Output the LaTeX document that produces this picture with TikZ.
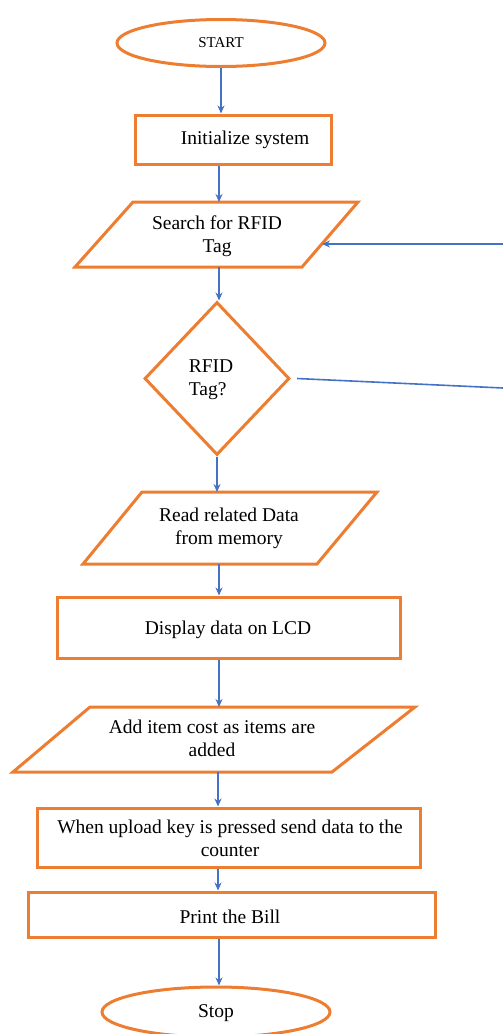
\documentclass[tikz,border=0pt]{standalone}
\usepackage{fontspec}
\setmainfont{Liberation Serif}
\usetikzlibrary{shapes.geometric,arrows.meta}
\definecolor{boxorange}{RGB}{237,125,49}
\definecolor{arrowblue}{RGB}{68,114,196}
\begin{document}
\begin{tikzpicture}[x=1pt,y=-1pt,
  box/.style={draw=boxorange, line width=3pt, rectangle, inner sep=0pt},
  term/.style={draw=boxorange, line width=3pt, ellipse, inner sep=0pt},
  pgram/.style={draw=boxorange, line width=3pt, line join=miter},
  lbl/.style={align=center, inner sep=0pt, font=\fontsize{19.5}{23}\selectfont},
  flow/.style={draw=arrowblue, line width=1.6pt, -{Stealth[length=8pt,width=7pt]}},
  conn/.style={draw=arrowblue, line width=1.6pt}]
\useasboundingbox (0,0) rectangle (503,1034);
\clip (0,0) rectangle (503,1034);
% START
\node[term, minimum width=208, minimum height=47, font=\fontsize{15}{18}\selectfont] (start) at (221,43) {START};
% Initialize
\node[box, minimum width=196, minimum height=49] (init) at (233,139.5) {};
\node[lbl] (initT) at (245,140) {Initialize system};
% Search
\draw[pgram] (133,202) -- (358,202) -- (302,267) -- (75,267) -- cycle;
\node[lbl] (search) at (217,236) {Search for RFID\\Tag};
\coordinate (searchN) at (219,202);
\coordinate (searchS) at (219,267);
\coordinate (searchE) at (322,244);
% Decision
\node[diamond, draw=boxorange, line width=3pt, minimum width=145, minimum height=153, inner sep=0pt] (dia) at (217,378.5) {};
\node[lbl, align=left] (diaT) at (211,380) {RFID\\Tag?};
% Read
\draw[pgram] (142,492) -- (377,492) -- (317,564) -- (83,564) -- cycle;
\node[lbl] (read) at (229,528) {Read related Data\\from memory};
\coordinate (readN) at (219,492);
\coordinate (readS) at (219,564);
% Display
\node[box, minimum width=343, minimum height=61] (disp) at (228.5,627.5) {};
\node[lbl] (dispT) at (228,630) {Display data on LCD};
% Add
\draw[pgram] (90,707) -- (415,707) -- (332,772) -- (13,772) -- cycle;
\node[lbl] (add) at (212,738) {Add item cost as items are\\added};
\coordinate (addN) at (219,707);
\coordinate (addS) at (218,772);
% Upload
\node[box, minimum width=383, minimum height=59] (upl) at (228.5,837.5) {};
\node[lbl] (uplT) at (230,838) {When upload key is pressed send data to the\\counter};
% Print
\node[box, minimum width=407, minimum height=45] (print) at (231.5,914.5) {};
\node[lbl] (printT) at (230,917) {Print the Bill};
% Stop
\node[term, minimum width=228, minimum height=50] (stop) at (216,1012) {};
\node[lbl] (stopT) at (216,1013) {Stop};
% right-side connectors
\coordinate (in1) at (503,244);
\coordinate (out1) at (503,388);
% connectors
\draw[flow] (start.south) -- (start.south |- init.north);
\draw[flow] (searchN |- init.south) -- (searchN);
\draw[flow] (searchS) -- (searchS |- dia.north);
\draw[flow] (dia.south) -- (dia.south |- readN);
\draw[flow] (readS) -- (readS |- disp.north);
\draw[flow] (addN |- disp.south) -- (addN);
\draw[flow] (addS) -- (addS |- upl.north);
\draw[flow] (addS |- upl.south) -- (addS |- print.north);
\draw[flow] (readS |- print.south) -- (readS |- stop.north);
\draw[flow] (in1) -- (searchE);
\draw[conn] ([xshift=6pt]dia.east) -- (out1);
\end{tikzpicture}
\end{document}
